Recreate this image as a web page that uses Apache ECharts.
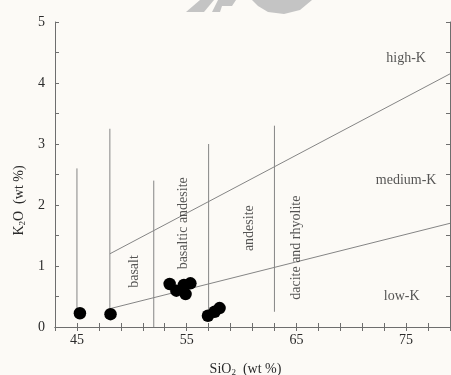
<!DOCTYPE html>
<html><head><meta charset="utf-8">
<script src="https://cdn.jsdelivr.net/npm/echarts@6/dist/echarts.min.js"></script>
<style>html,body{margin:0;padding:0;background:#fcfaf6;}#c{width:451px;height:375px;}</style>
</head><body><div id="c"></div>
<script>
// Sample points
const sampleSiO2 = [45.27, 48.06, 53.45, 54.06, 54.75, 54.9, 55.34, 56.94, 57.55, 58.0];
const sampleK2O  = [0.225, 0.21, 0.705, 0.595, 0.69, 0.54, 0.716, 0.185, 0.25, 0.31];
// Vertical rock-type dividers
const dividerSiO2   = [45, 48, 52, 57, 63];
const dividerBottom = [0.23, 0.21, 0, 0.17, 0.25];
const dividerTop    = [2.6, 3.25, 2.4, 3.0, 3.3];
// K-series boundaries
const highKSiO2 = [48, 79];
const highKK2O  = [1.2, 4.15];
const medKSiO2  = [48, 79];
const medKK2O   = [0.3, 1.7];
// Region labels
const seriesNames = ['high-K', 'medium-K', 'low-K'];
const seriesLabelX = [75.0, 75.0, 74.6];
const seriesLabelY = [4.4, 2.41, 0.51];
const rockNames = ['basalt', 'basaltic andesite', 'andesite', 'dacite and rhyolite'];
const rockLabelX = [50.2, 54.7, 60.7, 65.0];
const rockLabelY = [0.91, 1.70, 1.62, 1.30];
// Ticks
const xTickLabels = [45, 55, 65, 75];
const yTickLabels = [0, 1, 2, 3, 4, 5];

const FONT = '"Liberation Serif", "Times New Roman", serif';
const axisColor = '#6e6e6e';
const lineColor = '#858585';
const textColor = '#2a2a2a';

const series = [];
dividerSiO2.forEach((x, i) => {
  series.push({type: 'line', data: [[x, dividerBottom[i]], [x, dividerTop[i]]], symbol: 'none',
    lineStyle: {color: lineColor, width: 1}, silent: true, z: 2});
});
series.push({type: 'line', data: highKSiO2.map((x, i) => [x, highKK2O[i]]), symbol: 'none',
  lineStyle: {color: lineColor, width: 1}, silent: true, z: 2});
series.push({type: 'line', data: medKSiO2.map((x, i) => [x, medKK2O[i]]), symbol: 'none',
  lineStyle: {color: lineColor, width: 1}, silent: true, z: 2});
series.push({type: 'scatter', data: sampleSiO2.map((x, i) => [x, sampleK2O[i]]), symbolSize: 12.5,
  itemStyle: {color: '#000', opacity: 1}, z: 5});
series.push({type: 'scatter', data: seriesNames.map((n, i) => ({value: [seriesLabelX[i], seriesLabelY[i]], name: n})),
  symbolSize: 0, label: {show: true, position: [0, 0], align: 'center', verticalAlign: 'middle',
    formatter: p => p.name, color: textColor, fontFamily: FONT, fontSize: 14}, z: 6});
series.push({type: 'scatter', data: rockNames.map((n, i) => ({value: [rockLabelX[i], rockLabelY[i]], name: n})),
  symbolSize: 0, label: {show: true, position: [0, 0], align: 'center', verticalAlign: 'middle', rotate: 90,
    formatter: p => p.name, color: textColor, fontFamily: FONT, fontSize: 14}, z: 6});

const subRich = {
  n: {fontFamily: FONT, fontSize: 14, color: textColor},
  s: {fontFamily: FONT, fontSize: 9, color: textColor, verticalAlign: 'bottom', padding: [7, 0, 0, 0]}
};

const chart = echarts.init(document.getElementById('c'), null, {renderer: 'canvas'});
chart.setOption({
  backgroundColor: '#fcfaf6',
  animation: false,
  grid: {left: 55, right: 1, top: 22, bottom: 48, containLabel: false, outerBoundsMode: 'none'},
  xAxis: [{
    type: 'value', min: 43, max: 79, interval: 2,
    axisLine: {lineStyle: {color: axisColor}},
    axisTick: {inside: true, length: 4, lineStyle: {color: axisColor}},
    splitLine: {show: false},
    axisLabel: {margin: 6, color: textColor, fontFamily: FONT, fontSize: 14,
      formatter: v => xTickLabels.includes(v) ? String(v) : ''},
    name: '{n|SiO}{s|2}{n|  (wt %)}', nameLocation: 'middle', nameGap: 34,
    nameTextStyle: {rich: subRich, padding: [0, 14, 0, 0]}
  }, {
    type: 'value', position: 'top', min: 43, max: 79, interval: 2,
    axisLine: {lineStyle: {color: axisColor}},
    axisTick: {inside: true, length: 4, lineStyle: {color: axisColor}},
    axisLabel: {show: false}, splitLine: {show: false}
  }],
  yAxis: [{
    type: 'value', min: 0, max: 5, interval: 0.5,
    axisLine: {show: true, lineStyle: {color: axisColor}},
    axisTick: {show: true, inside: true, length: 4, lineStyle: {color: axisColor}},
    splitLine: {show: false},
    axisLabel: {margin: 10, color: textColor, fontFamily: FONT, fontSize: 14,
      formatter: v => yTickLabels.includes(v) ? String(v) : ''},
    name: '{n|K}{s|2}{n|O  (wt %)}', nameLocation: 'middle', nameGap: 27, nameRotate: 90,
    nameTextStyle: {rich: subRich, padding: [0, 52, 0, 0]}
  }, {
    type: 'value', position: 'right', min: 0, max: 5, interval: 0.5,
    axisLine: {show: true, lineStyle: {color: axisColor}},
    axisTick: {show: true, inside: true, length: 4, lineStyle: {color: axisColor}},
    axisLabel: {show: false}, splitLine: {show: false}
  }],
  series: series,
  graphic: [
    {type: 'polygon', shape: {points: [[186, 12], [200, 0], [214, 0], [204, 12]]}, style: {fill: '#c4c4c4'}, silent: true},
    {type: 'polygon', shape: {points: [[212, 12], [218, 0], [236, 0], [232, 6], [222, 6], [220, 12]]}, style: {fill: '#c4c4c4'}, silent: true},
    {type: 'polygon', shape: {points: [[252, 0], [312, 0], [300, 10], [284, 14], [268, 12], [258, 6]]}, style: {fill: '#c4c4c4'}, silent: true}
  ]
});
</script>
</body></html>
